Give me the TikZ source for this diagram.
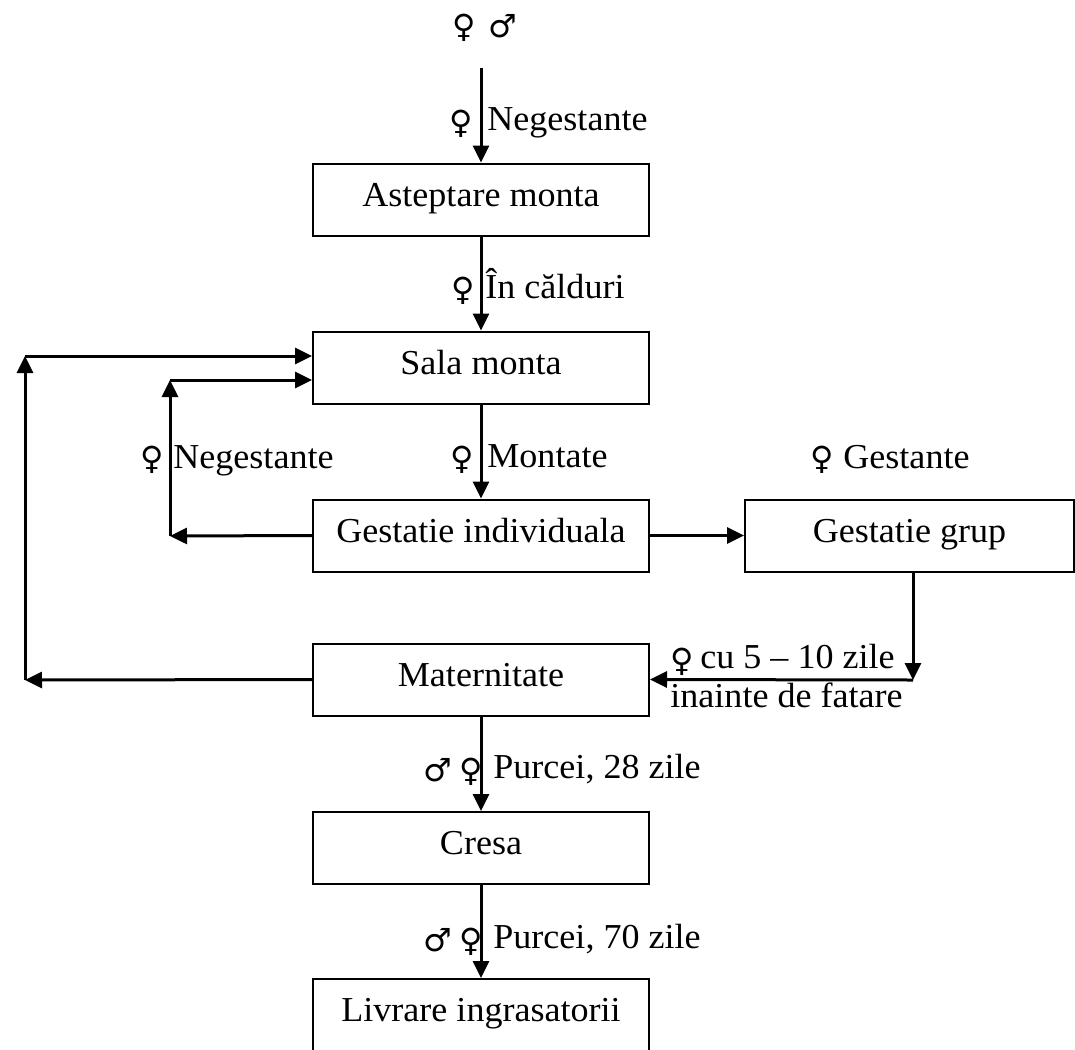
\documentclass[tikz,border=0pt]{standalone}
\usepackage{fontspec}
\setmainfont{Liberation Serif}[FakeStretch=1.03]
\newfontfamily\symfont{DejaVu Sans}
\usetikzlibrary{arrows.meta}
\begin{document}
\begin{tikzpicture}[x=0.5pt,y=-0.5pt,
  box/.style={draw,line width=1pt,minimum width=168pt,minimum height=36pt,inner sep=0pt,text height=10pt,text depth=3.5pt,font=\fontsize{17.5}{20}\selectfont},
  arr/.style={line width=1.5pt,-{Triangle[length=8.5pt,width=8pt]}},
  lbl/.style={anchor=base west,inner sep=0pt,font=\fontsize{17.5}{20}\selectfont},
  sym/.style={inner sep=0pt,font=\symfont\fontsize{16}{18}\selectfont}]
\clip (0,0) rectangle (1075,1049);
% boxes
\node[box] (a) at (481,199.5) {Asteptare monta};
\node[box] (s) at (481,367.5) {Sala monta};
\node[box] (gi) at (481,535.5) {Gestatie individuala};
\node[box,minimum width=164.5pt] (gg) at (909.5,535.5) {Gestatie grup};
\node[box] (m) at (481,679.5) {Maternitate};
\node[box] (c) at (481,848) {Cresa};
\node[box] (l) at (481,1015) {Livrare ingrasatorii};
% top symbols
\node[sym] (t1) at (464,28) {♀};
\node[sym] (t2) at (503,26) {♂};
% coordinates
\coordinate (t0) at (481,68);
\coordinate (l1) at (170,536);
\coordinate (l2) at (170,380);
\coordinate (o1) at (25,680);
\coordinate (o2) at (25,356);
\coordinate (k1) at (913,680);
% connectors
\draw[arr] (t0) -- (a.north);
\draw[arr] (a.south) -- (s.north);
\draw[arr] (s.south) -- (gi.north);
\draw[arr] (gi.east) -- (gg.west);
\draw[arr] (gi.west) -- (l1);
\draw[arr] (l1) -- (l2);
\draw[arr] (l2) -- (s.west |- l2);
\draw[arr] (m.west) -- (o1);
\draw[arr] (o1) -- (o2);
\draw[arr] (o2) -- (s.west |- o2);
\draw[arr] (gg.south -| k1) -- (k1);
\draw[arr] (k1) -- (m.east);
\draw[arr] (m.south) -- (c.north);
\draw[arr] (c.south) -- (l.north);
% labels
\node[sym] (f1) at (461,124) {♀};
\node[lbl] (n1) at (487,130) {Negestante};
\node[sym] (f2) at (463,291) {♀};
\node[lbl] (n2) at (485,298) {În călduri};
\node[sym] (f3) at (462,460) {♀};
\node[lbl] (n3) at (487,467) {Montate};
\node[sym] (f4) at (152,460) {♀};
\node[lbl] (n4) at (173,468) {Negestante};
\node[sym] (f5) at (822,460) {♀};
\node[lbl] (n5) at (843,468) {Gestante};
\node[sym] (f6) at (682,662) {♀};
\node[lbl] (n6) at (700,668) {cu 5 – 10 zile};
\node[lbl] (n7) at (670,707) {inainte de fatare};
\node[sym] (p1) at (438,770) {♂};
\node[sym] (p2) at (471,772) {♀};
\node[lbl] (n8) at (493,778) {Purcei, 28 zile};
\node[sym] (p3) at (438,940) {♂};
\node[sym] (p4) at (471,942) {♀};
\node[lbl] (n9) at (493,948) {Purcei, 70 zile};
\end{tikzpicture}
\end{document}
